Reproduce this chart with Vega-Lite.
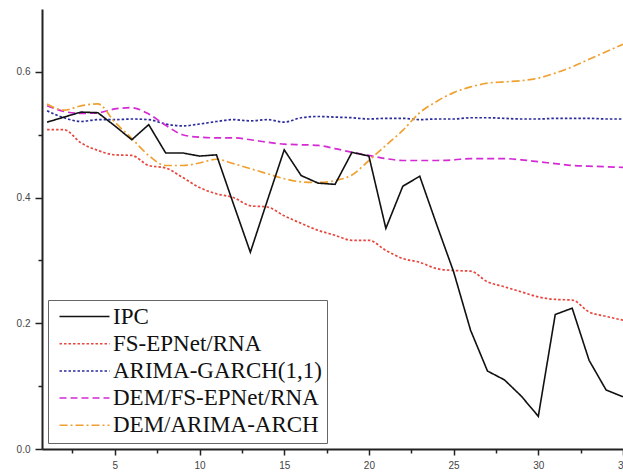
{
  "$schema": "https://vega.github.io/schema/vega-lite/v6.json",
  "width": 581,
  "height": 440,
  "autosize": {"type": "none"},
  "padding": {"left": 42, "top": 9, "right": 0, "bottom": 25},
  "background": "white",
  "config": {"view": {"stroke": null}},
  "datasets": {
    "series": [
      {"x":1,"s":"IPC","v":0.52},{"x":2,"s":"IPC","v":0.528},{"x":3,"s":"IPC","v":0.536},{"x":4,"s":"IPC","v":0.535},{"x":5,"s":"IPC","v":0.514},{"x":6,"s":"IPC","v":0.492},{"x":7,"s":"IPC","v":0.516},{"x":8,"s":"IPC","v":0.471},{"x":9,"s":"IPC","v":0.471},{"x":10,"s":"IPC","v":0.466},{"x":11,"s":"IPC","v":0.468},{"x":12,"s":"IPC","v":0.39},{"x":13,"s":"IPC","v":0.313},{"x":14,"s":"IPC","v":0.395},{"x":15,"s":"IPC","v":0.476},{"x":16,"s":"IPC","v":0.435},{"x":17,"s":"IPC","v":0.423},{"x":18,"s":"IPC","v":0.421},{"x":19,"s":"IPC","v":0.472},{"x":20,"s":"IPC","v":0.466},{"x":21,"s":"IPC","v":0.351},{"x":22,"s":"IPC","v":0.418},{"x":23,"s":"IPC","v":0.434},{"x":24,"s":"IPC","v":0.357},{"x":25,"s":"IPC","v":0.282},{"x":26,"s":"IPC","v":0.189},{"x":27,"s":"IPC","v":0.124},{"x":28,"s":"IPC","v":0.11},{"x":29,"s":"IPC","v":0.084},{"x":30,"s":"IPC","v":0.052},{"x":31,"s":"IPC","v":0.214},{"x":32,"s":"IPC","v":0.224},{"x":33,"s":"IPC","v":0.141},{"x":34,"s":"IPC","v":0.094},{"x":35,"s":"IPC","v":0.083},

      {"x":1,"s":"FS-EPNet/RNA","v":0.508},{"x":2,"s":"FS-EPNet/RNA","v":0.508},{"x":3,"s":"FS-EPNet/RNA","v":0.487},{"x":4,"s":"FS-EPNet/RNA","v":0.475},{"x":5,"s":"FS-EPNet/RNA","v":0.468},{"x":6,"s":"FS-EPNet/RNA","v":0.467},{"x":7,"s":"FS-EPNet/RNA","v":0.451},{"x":8,"s":"FS-EPNet/RNA","v":0.447},{"x":9,"s":"FS-EPNet/RNA","v":0.432},{"x":10,"s":"FS-EPNet/RNA","v":0.416},{"x":11,"s":"FS-EPNet/RNA","v":0.406},{"x":12,"s":"FS-EPNet/RNA","v":0.4},{"x":13,"s":"FS-EPNet/RNA","v":0.387},{"x":14,"s":"FS-EPNet/RNA","v":0.385},{"x":15,"s":"FS-EPNet/RNA","v":0.371},{"x":16,"s":"FS-EPNet/RNA","v":0.359},{"x":17,"s":"FS-EPNet/RNA","v":0.348},{"x":18,"s":"FS-EPNet/RNA","v":0.34},{"x":19,"s":"FS-EPNet/RNA","v":0.332},{"x":20,"s":"FS-EPNet/RNA","v":0.332},{"x":21,"s":"FS-EPNet/RNA","v":0.316},{"x":22,"s":"FS-EPNet/RNA","v":0.303},{"x":23,"s":"FS-EPNet/RNA","v":0.297},{"x":24,"s":"FS-EPNet/RNA","v":0.287},{"x":25,"s":"FS-EPNet/RNA","v":0.284},{"x":26,"s":"FS-EPNet/RNA","v":0.283},{"x":27,"s":"FS-EPNet/RNA","v":0.266},{"x":28,"s":"FS-EPNet/RNA","v":0.258},{"x":29,"s":"FS-EPNet/RNA","v":0.25},{"x":30,"s":"FS-EPNet/RNA","v":0.242},{"x":31,"s":"FS-EPNet/RNA","v":0.238},{"x":32,"s":"FS-EPNet/RNA","v":0.237},{"x":33,"s":"FS-EPNet/RNA","v":0.218},{"x":34,"s":"FS-EPNet/RNA","v":0.211},{"x":35,"s":"FS-EPNet/RNA","v":0.205},

      {"x":1,"s":"ARIMA-GARCH(1,1)","v":0.538},{"x":2,"s":"ARIMA-GARCH(1,1)","v":0.527},{"x":3,"s":"ARIMA-GARCH(1,1)","v":0.521},{"x":4,"s":"ARIMA-GARCH(1,1)","v":0.524},{"x":5,"s":"ARIMA-GARCH(1,1)","v":0.524},{"x":6,"s":"ARIMA-GARCH(1,1)","v":0.525},{"x":7,"s":"ARIMA-GARCH(1,1)","v":0.524},{"x":8,"s":"ARIMA-GARCH(1,1)","v":0.517},{"x":9,"s":"ARIMA-GARCH(1,1)","v":0.514},{"x":10,"s":"ARIMA-GARCH(1,1)","v":0.517},{"x":11,"s":"ARIMA-GARCH(1,1)","v":0.521},{"x":12,"s":"ARIMA-GARCH(1,1)","v":0.524},{"x":13,"s":"ARIMA-GARCH(1,1)","v":0.522},{"x":14,"s":"ARIMA-GARCH(1,1)","v":0.524},{"x":15,"s":"ARIMA-GARCH(1,1)","v":0.52},{"x":16,"s":"ARIMA-GARCH(1,1)","v":0.527},{"x":17,"s":"ARIMA-GARCH(1,1)","v":0.529},{"x":18,"s":"ARIMA-GARCH(1,1)","v":0.528},{"x":19,"s":"ARIMA-GARCH(1,1)","v":0.527},{"x":20,"s":"ARIMA-GARCH(1,1)","v":0.525},{"x":21,"s":"ARIMA-GARCH(1,1)","v":0.526},{"x":22,"s":"ARIMA-GARCH(1,1)","v":0.526},{"x":23,"s":"ARIMA-GARCH(1,1)","v":0.524},{"x":24,"s":"ARIMA-GARCH(1,1)","v":0.525},{"x":25,"s":"ARIMA-GARCH(1,1)","v":0.525},{"x":26,"s":"ARIMA-GARCH(1,1)","v":0.527},{"x":27,"s":"ARIMA-GARCH(1,1)","v":0.527},{"x":28,"s":"ARIMA-GARCH(1,1)","v":0.526},{"x":29,"s":"ARIMA-GARCH(1,1)","v":0.525},{"x":30,"s":"ARIMA-GARCH(1,1)","v":0.525},{"x":31,"s":"ARIMA-GARCH(1,1)","v":0.526},{"x":32,"s":"ARIMA-GARCH(1,1)","v":0.526},{"x":33,"s":"ARIMA-GARCH(1,1)","v":0.526},{"x":34,"s":"ARIMA-GARCH(1,1)","v":0.525},{"x":35,"s":"ARIMA-GARCH(1,1)","v":0.525},

      {"x":1,"s":"DEM/FS-EPNet/RNA","v":0.546},{"x":2,"s":"DEM/FS-EPNet/RNA","v":0.537},{"x":3,"s":"DEM/FS-EPNet/RNA","v":0.534},{"x":4,"s":"DEM/FS-EPNet/RNA","v":0.535},{"x":5,"s":"DEM/FS-EPNet/RNA","v":0.541},{"x":6,"s":"DEM/FS-EPNet/RNA","v":0.543},{"x":7,"s":"DEM/FS-EPNet/RNA","v":0.533},{"x":8,"s":"DEM/FS-EPNet/RNA","v":0.515},{"x":9,"s":"DEM/FS-EPNet/RNA","v":0.5},{"x":10,"s":"DEM/FS-EPNet/RNA","v":0.496},{"x":11,"s":"DEM/FS-EPNet/RNA","v":0.495},{"x":12,"s":"DEM/FS-EPNet/RNA","v":0.495},{"x":13,"s":"DEM/FS-EPNet/RNA","v":0.492},{"x":14,"s":"DEM/FS-EPNet/RNA","v":0.488},{"x":15,"s":"DEM/FS-EPNet/RNA","v":0.485},{"x":16,"s":"DEM/FS-EPNet/RNA","v":0.484},{"x":17,"s":"DEM/FS-EPNet/RNA","v":0.483},{"x":18,"s":"DEM/FS-EPNet/RNA","v":0.478},{"x":19,"s":"DEM/FS-EPNet/RNA","v":0.472},{"x":20,"s":"DEM/FS-EPNet/RNA","v":0.467},{"x":21,"s":"DEM/FS-EPNet/RNA","v":0.462},{"x":22,"s":"DEM/FS-EPNet/RNA","v":0.459},{"x":23,"s":"DEM/FS-EPNet/RNA","v":0.459},{"x":24,"s":"DEM/FS-EPNet/RNA","v":0.459},{"x":25,"s":"DEM/FS-EPNet/RNA","v":0.46},{"x":26,"s":"DEM/FS-EPNet/RNA","v":0.462},{"x":27,"s":"DEM/FS-EPNet/RNA","v":0.462},{"x":28,"s":"DEM/FS-EPNet/RNA","v":0.462},{"x":29,"s":"DEM/FS-EPNet/RNA","v":0.46},{"x":30,"s":"DEM/FS-EPNet/RNA","v":0.457},{"x":31,"s":"DEM/FS-EPNet/RNA","v":0.454},{"x":32,"s":"DEM/FS-EPNet/RNA","v":0.451},{"x":33,"s":"DEM/FS-EPNet/RNA","v":0.45},{"x":34,"s":"DEM/FS-EPNet/RNA","v":0.449},{"x":35,"s":"DEM/FS-EPNet/RNA","v":0.448},

      {"x":1,"s":"DEM/ARIMA-ARCH","v":0.549},{"x":2,"s":"DEM/ARIMA-ARCH","v":0.539},{"x":3,"s":"DEM/ARIMA-ARCH","v":0.546},{"x":4,"s":"DEM/ARIMA-ARCH","v":0.549},{"x":5,"s":"DEM/ARIMA-ARCH","v":0.52},{"x":6,"s":"DEM/ARIMA-ARCH","v":0.494},{"x":7,"s":"DEM/ARIMA-ARCH","v":0.467},{"x":8,"s":"DEM/ARIMA-ARCH","v":0.451},{"x":9,"s":"DEM/ARIMA-ARCH","v":0.451},{"x":10,"s":"DEM/ARIMA-ARCH","v":0.455},{"x":11,"s":"DEM/ARIMA-ARCH","v":0.461},{"x":12,"s":"DEM/ARIMA-ARCH","v":0.454},{"x":13,"s":"DEM/ARIMA-ARCH","v":0.446},{"x":14,"s":"DEM/ARIMA-ARCH","v":0.438},{"x":15,"s":"DEM/ARIMA-ARCH","v":0.43},{"x":16,"s":"DEM/ARIMA-ARCH","v":0.425},{"x":17,"s":"DEM/ARIMA-ARCH","v":0.424},{"x":18,"s":"DEM/ARIMA-ARCH","v":0.427},{"x":19,"s":"DEM/ARIMA-ARCH","v":0.436},{"x":20,"s":"DEM/ARIMA-ARCH","v":0.459},{"x":21,"s":"DEM/ARIMA-ARCH","v":0.483},{"x":22,"s":"DEM/ARIMA-ARCH","v":0.507},{"x":23,"s":"DEM/ARIMA-ARCH","v":0.535},{"x":24,"s":"DEM/ARIMA-ARCH","v":0.553},{"x":25,"s":"DEM/ARIMA-ARCH","v":0.567},{"x":26,"s":"DEM/ARIMA-ARCH","v":0.576},{"x":27,"s":"DEM/ARIMA-ARCH","v":0.582},{"x":28,"s":"DEM/ARIMA-ARCH","v":0.584},{"x":29,"s":"DEM/ARIMA-ARCH","v":0.586},{"x":30,"s":"DEM/ARIMA-ARCH","v":0.59},{"x":31,"s":"DEM/ARIMA-ARCH","v":0.598},{"x":32,"s":"DEM/ARIMA-ARCH","v":0.608},{"x":33,"s":"DEM/ARIMA-ARCH","v":0.62},{"x":34,"s":"DEM/ARIMA-ARCH","v":0.632},{"x":35,"s":"DEM/ARIMA-ARCH","v":0.644}
    ]
  },
  "layer": [
    {
      "data": {"name": "series"},
      "transform": [{"filter": "datum.s !== 'IPC'"}],
      "mark": {"type": "line", "interpolate": "monotone", "strokeWidth": 1.7},
      "encoding": {
        "x": {"field": "x", "type": "quantitative",
          "scale": {"domain": [0.7, 35], "nice": false, "zero": false},
          "axis": {"title": null, "values": [2.5,5,7.5,10,12.5,15,17.5,20,22.5,25,27.5,30,32.5,35],
            "labelExpr": "datum.value % 5 === 0 ? datum.label : ''",
            "tickSize": {"condition": {"test": "datum.value % 5 === 0", "value": 6}, "value": 4},
            "labelFlush": false, "labelOverlap": false,
            "domainColor": "#222", "domainWidth": 2, "tickColor": "#222", "tickWidth": 1.5,
            "labelFont": "Liberation Sans", "labelFontSize": 10, "labelColor": "#444", "labelPadding": 5, "grid": false}},
        "y": {"field": "v", "type": "quantitative",
          "scale": {"domain": [0, 0.7], "nice": false},
          "axis": {"title": null, "values": [0,0.1,0.2,0.3,0.4,0.5,0.6],
            "labelExpr": "round(datum.value*10) % 2 === 0 ? format(datum.value, '.1f') : ''",
            "tickSize": {"condition": {"test": "round(datum.value*10) % 2 === 0", "value": 7}, "value": 4},
            "labelFlush": false,
            "domainColor": "#222", "domainWidth": 2, "tickColor": "#222", "tickWidth": 1.5,
            "labelFont": "Liberation Sans", "labelFontSize": 10, "labelColor": "#444", "labelPadding": 5, "grid": false}},
        "color": {"field": "s", "type": "nominal",
          "scale": {"domain": ["IPC","FS-EPNet/RNA","ARIMA-GARCH(1,1)","DEM/FS-EPNet/RNA","DEM/ARIMA-ARCH"],
            "range": ["#111111","#e8453c","#2b2b9e","#d42ad4","#f0a030"]},
          "legend": {"title": null, "orient": "none", "legendX": 6, "legendY": 291,
            "symbolType": "M-1,0H9", "symbolSize": 100, "symbolStrokeWidth": 1.5,
            "labelFont": "Liberation Serif", "labelFontSize": 23, "labelColor": "#111", "labelLimit": 400,
            "labelOffset": 37, "rowPadding": 3.2, "padding": 5,
            "strokeColor": "#666", "fillColor": "white"}},
        "strokeDash": {"field": "s", "type": "nominal",
          "scale": {"domain": ["IPC","FS-EPNet/RNA","ARIMA-GARCH(1,1)","DEM/FS-EPNet/RNA","DEM/ARIMA-ARCH"],
            "range": [[1,0],[2.5,2],[2.5,2],[7,4],[8,3,2,3]]}}
      }
    },
    {
      "data": {"name": "series"},
      "transform": [{"filter": "datum.s === 'IPC'"}],
      "mark": {"type": "line", "strokeWidth": 1.6},
      "encoding": {
        "x": {"field": "x", "type": "quantitative"},
        "y": {"field": "v", "type": "quantitative"},
        "color": {"field": "s", "type": "nominal"},
        "strokeDash": {"field": "s", "type": "nominal"}
      }
    },
    {
      "mark": {"type": "rule", "color": "#222", "strokeWidth": 2},
      "encoding": {"y": {"datum": 0.7}}
    }
  ]
}
